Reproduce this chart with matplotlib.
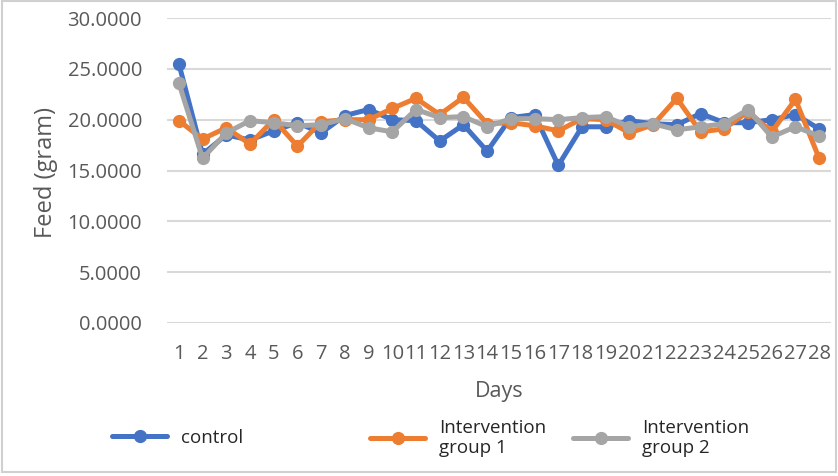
import matplotlib
matplotlib.use("Agg")
import matplotlib.pyplot as plt
from matplotlib.patches import Rectangle

days = [str(d) for d in range(1, 29)]
control = [25.5, 16.6, 18.5, 18.0, 18.9, 19.7, 18.7, 20.4, 21.0, 20.0,
           19.9, 17.9, 19.5, 16.9, 20.2, 20.5, 15.5, 19.3, 19.3, 19.9,
           19.6, 19.5, 20.6, 19.7, 19.7, 20.0, 20.5, 19.1]
group1 = [19.9, 18.1, 19.2, 17.6, 20.0, 17.4, 19.8, 20.0, 20.0, 21.1,
          22.1, 20.5, 22.2, 19.6, 19.7, 19.4, 18.9, 20.1, 20.0, 18.7,
          19.5, 22.1, 18.8, 19.1, 20.8, 18.8, 22.0, 16.2]
group2 = [23.6, 16.2, 18.7, 19.9, 19.7, 19.4, 19.5, 20.1, 19.2, 18.8,
          21.0, 20.2, 20.3, 19.3, 20.1, 20.1, 20.0, 20.2, 20.3, 19.3,
          19.6, 19.0, 19.3, 19.6, 21.0, 18.3, 19.3, 18.4]
series_names = ["control", "Intervention\ngroup 1", "Intervention\ngroup 2"]
colors = ["#4472C4", "#ED7D31", "#A5A5A5"]
yticks = [0, 5, 10, 15, 20, 25, 30]

plt.rcParams['font.family'] = ['Open Sans', 'DejaVu Sans']

W, H = 838, 476
fig = plt.figure(figsize=(W/100, H/100), dpi=100)
ax = fig.add_axes([167/W, 1-323/H, (831-167)/W, (323-18)/H])

x = list(range(1, 29))
for vals, name, c in zip([control, group1, group2], series_names, colors):
    ax.plot(x, vals, color=c, lw=3.6, marker='o', ms=8.5, label=name,
            solid_capstyle='round', solid_joinstyle='round')

ax.set_xlim(0.5, 28.5)
ax.set_ylim(0, 30)
ax.set_yticks(yticks)
ax.set_yticklabels([f"{v:.4f}" for v in yticks], fontsize=14.5, color='#595959')
ax.set_xticks(x)
ax.set_xticklabels(days, fontsize=14.5, color='#595959')
ax.tick_params(axis='y', length=0, pad=18)
ax.tick_params(axis='x', length=0, pad=15)
for s in ax.spines.values():
    s.set_visible(False)
ax.grid(axis='y', color='#D9D9D9', lw=1.5)
ax.set_axisbelow(True)

fig.text(499/W, 1-391/H, "Days", ha='center', va='center', fontsize=15.5, color='#595959')
fig.text(46/W, 1-173/H, "Feed (gram)", ha='center', va='center', rotation=90,
         fontsize=17, color='#595959')

handles = ax.get_lines()
pos = [(112, 438), (370, 438), (573, 438)]
for h, (px, py) in zip(handles, pos):
    fig.legend([h], [h.get_label()], loc='center left',
               bbox_to_anchor=(px/W, 1-py/H), frameon=False,
               fontsize=13.5, handlelength=2.95, handletextpad=0.75,
               labelcolor='#262626', borderaxespad=0, borderpad=0,
               labelspacing=0.2)

fig.patches.append(Rectangle((0.002, 0.008), 0.996, 0.99, transform=fig.transFigure,
                             fill=False, edgecolor='#D0D0D0', lw=1.5))

fig.savefig("out.png", dpi=100)
